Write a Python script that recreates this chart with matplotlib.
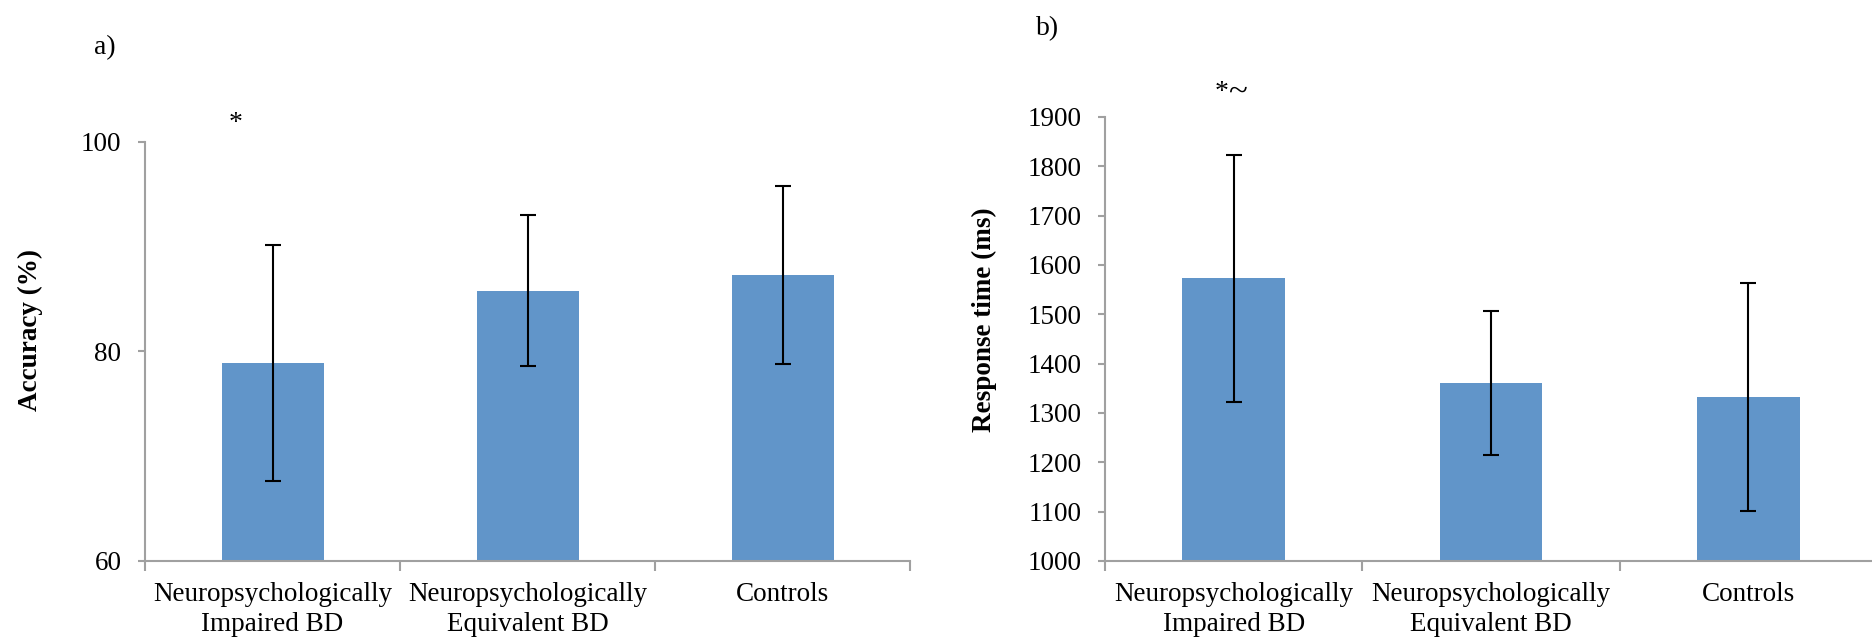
import matplotlib
matplotlib.use("Agg")
import matplotlib.pyplot as plt
import numpy as np

plt.rcParams['font.family'] = ['Liberation Serif', 'DejaVu Serif']

categories = ["Neuropsychologically\nImpaired BD", "Neuropsychologically\nEquivalent BD", "Controls"]
accuracy = [78.9, 85.8, 87.3]
accuracy_err = [11.3, 7.2, 8.5]
rt = [1573, 1360, 1333]
rt_err = [250, 146, 231]
acc_ticks = [60, 80, 100]
rt_ticks = [1000, 1100, 1200, 1300, 1400, 1500, 1600, 1700, 1800, 1900]

bar_color = '#6195C9'
axis_color = '#A0A0A0'
FS = 19.5

fig = plt.figure(figsize=(18.72, 6.42), dpi=100)
W, H = 1872, 642

def make_axes(l, r, t, b):
    return fig.add_axes([l / W, 1 - b / H, (r - l) / W, (b - t) / H])

ax1 = make_axes(145, 910, 142, 561)
ax2 = make_axes(1105, 1877, 117, 561)

def style(ax, ylim, yticks):
    x = np.arange(len(categories))
    ax.set_xlim(-0.5, len(categories) - 0.5)
    ax.set_ylim(*ylim)
    ax.set_yticks(yticks)
    ax.set_yticklabels([str(v) for v in yticks])
    ax.set_xticks(x)
    ax.set_xticklabels(categories, linespacing=1.25)
    ax.set_xticks(np.arange(len(categories) + 1) - 0.5, minor=True)
    ax.tick_params(axis='x', which='major', length=0, pad=15, labelsize=FS)
    ax.tick_params(axis='x', which='minor', length=7, width=1.5, color=axis_color, direction='out')
    ax.tick_params(axis='y', which='major', length=5, width=1.5, color=axis_color,
                   direction='out', pad=12, labelsize=FS)
    for s in ['top', 'right']:
        ax.spines[s].set_visible(False)
    for s in ['left', 'bottom']:
        ax.spines[s].set_color(axis_color)
        ax.spines[s].set_linewidth(1.5)
    return x

x1 = style(ax1, (60, 100), acc_ticks)
ax1.bar(x1, [a - 60 for a in accuracy], bottom=60, width=0.4, color=bar_color, zorder=2)
ax1.errorbar(x1, accuracy, yerr=accuracy_err, fmt='none', ecolor='black',
             elinewidth=1.5, capsize=6, capthick=1.5, zorder=3)

x2 = style(ax2, (1000, 1900), rt_ticks)
ax2.bar(x2, [v - 1000 for v in rt], bottom=1000, width=0.4, color=bar_color, zorder=2)
ax2.errorbar(x2, rt, yerr=rt_err, fmt='none', ecolor='black',
             elinewidth=1.5, capsize=6, capthick=1.5, zorder=3)

ax1.text(-0.145, 101.1, "*", ha='center', va='baseline', fontsize=20, clip_on=False)
ax2.text(-0.02, 1936, "*", ha='right', va='baseline', fontsize=20, clip_on=False)
ax2.text(-0.02, 1932, "~", ha='left', va='baseline', fontsize=25, clip_on=False)

fig.text(105 / W, 1 - 48 / H, "a)", ha='center', va='center', fontsize=20)
fig.text(1048 / W, 1 - 29 / H, "b)", ha='center', va='center', fontsize=20)

fig.text(30 / W, 1 - 330 / H, "Accuracy (%)", rotation=90, ha='center', va='center',
         fontsize=19.5, fontweight='bold')
fig.text(984 / W, 1 - 320 / H, "Response time (ms)", rotation=90, ha='center', va='center',
         fontsize=19.5, fontweight='bold')

fig.savefig("out.png", dpi=100)
